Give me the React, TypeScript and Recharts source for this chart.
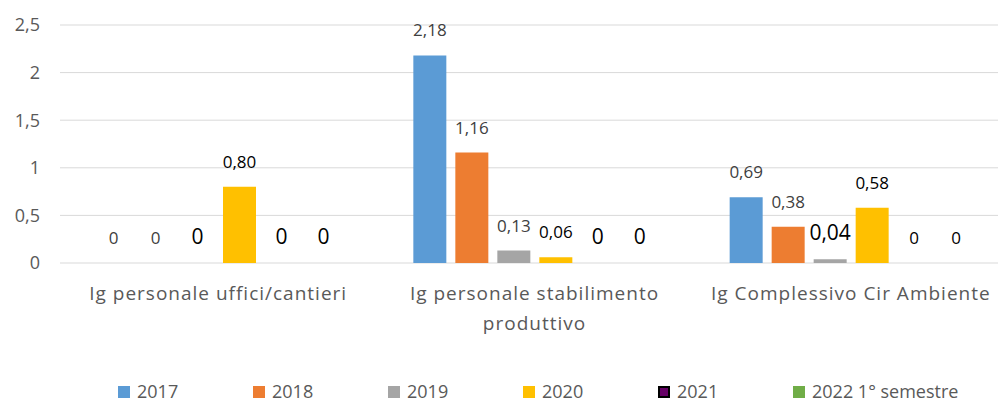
import React from "react";
import { BarChart, Bar, XAxis, YAxis, CartesianGrid, Legend } from "recharts";

// Indici di gravità per anno
const categories = [
  "Ig personale uffici/cantieri",
  "Ig personale stabilimento produttivo",
  "Ig Complessivo Cir Ambiente",
];
const s2017 = [0, 2.18, 0.69];
const s2018 = [0, 1.16, 0.38];
const s2019 = [0, 0.13, 0.04];
const s2020 = [0.8, 0.06, 0.58];
const s2021 = [0, 0, 0];
const s2022 = [0, 0, 0];
const yTicks = [0, 0.5, 1, 1.5, 2, 2.5];

const series = [
  { key: "y2017", name: "2017", values: s2017 },
  { key: "y2018", name: "2018", values: s2018 },
  { key: "y2019", name: "2019", values: s2019 },
  { key: "y2020", name: "2020", values: s2020 },
  { key: "y2021", name: "2021", values: s2021 },
  { key: "y2022", name: "2022 1° semestre", values: s2022 },
];

// stile grafico (separato dai dati)
const COLORS: Record<string, { fill: string; stroke?: string }> = {
  y2017: { fill: "#5B9BD5" },
  y2018: { fill: "#ED7D31" },
  y2019: { fill: "#A5A5A5" },
  y2020: { fill: "#FFC000" },
  y2021: { fill: "#660066", stroke: "#000000" },
  y2022: { fill: "#70AD47" },
};
// g = grigio normale, k = nero normale, K = nero grande
const TONE: Record<string, string[]> = {
  y2017: ["g", "g", "g"],
  y2018: ["g", "g", "g"],
  y2019: ["K", "g", "K"],
  y2020: ["k", "k", "k"],
  y2021: ["K", "K", "k"],
  y2022: ["K", "K", "k"],
};

const FONT = "'Open Sans', 'Noto Sans', sans-serif";
const data = categories.map((name, i) => {
  const row: any = { name };
  series.forEach((s) => (row[s.key] = s.values[i]));
  return row;
});

const fmtVal = (v: number) => (v === 0 ? "0" : v.toFixed(2).replace(".", ","));
const fmtTick = (v: number) => String(v).replace(".", ",");

const makeLabel = (key: string) => (p: any) => {
  const { x, y, width, value, index } = p;
  const tone = TONE[key][index] || "g";
  const fill = tone === "g" ? "#404040" : "#000000";
  const size = tone === "K" ? 21 : 17;
  return (
    <text x={x + width / 2} y={y - 19} textAnchor="middle" fill={fill} fontSize={size} fontFamily={FONT}>
      {fmtVal(Number(value))}
    </text>
  );
};

function wrap(s: string, max = 28) {
  const out: string[] = [];
  let cur = "";
  s.split(" ").forEach((w) => {
    if (cur && (cur + " " + w).length > max) { out.push(cur); cur = w; }
    else cur = cur ? cur + " " + w : w;
  });
  if (cur) out.push(cur);
  return out;
}

const CatTick = ({ x, y, payload }: any) => (
  <g>
    {wrap(payload.value).map((l, i) => (
      <text key={i} x={x} y={y + 29 + i * 30} textAnchor="middle" fill="#595959" fontSize={19} letterSpacing={1} fontFamily={FONT}>{l}</text>
    ))}
  </g>
);

const LegendBox = () => (
  <div style={{ display: "flex", paddingLeft: 118, paddingTop: 19, fontFamily: FONT, fontSize: 18, lineHeight: "19px", color: "#595959" }}>
    {series.map((s) => (
      <div key={s.key} style={{ width: 135, flexShrink: 0, display: "flex", alignItems: "center", whiteSpace: "nowrap" }}>
        <span style={{ display: "inline-block", flexShrink: 0, width: 12, height: 12, boxSizing: "border-box", background: COLORS[s.key].fill, border: COLORS[s.key].stroke ? "2px solid #000" : "none", marginRight: 7 }} />
        {s.name}
      </div>
    ))}
  </div>
);

export default function App() {
  return (
    <div style={{ position: "absolute", left: 0, top: 0, width: 998, height: 403, overflow: "hidden", background: "#fff" }}>
      <BarChart width={1009} height={403} data={data} margin={{ top: 25, right: 0, left: 0, bottom: 0 }} barSize={33} barGap={9}>
        <CartesianGrid stroke="#D9D9D9" vertical={false} />
        <XAxis dataKey="name" axisLine={false} tickLine={false} height={100} interval={0} tick={<CatTick />} />
        <YAxis domain={[0, 2.5]} ticks={yTicks} width={60} axisLine={false} tickLine={false} tickMargin={14}
          tickFormatter={fmtTick} tick={{ fill: "#595959", fontSize: 18, fontFamily: FONT }} />
        <Legend verticalAlign="bottom" height={40} content={<LegendBox />} />
        {series.map((s) => (
          <Bar key={s.key} dataKey={s.key} name={s.name} fill={COLORS[s.key].fill} isAnimationActive={false}
            minPointSize={0.01} label={makeLabel(s.key)} />
        ))}
      </BarChart>
    </div>
  );
}
